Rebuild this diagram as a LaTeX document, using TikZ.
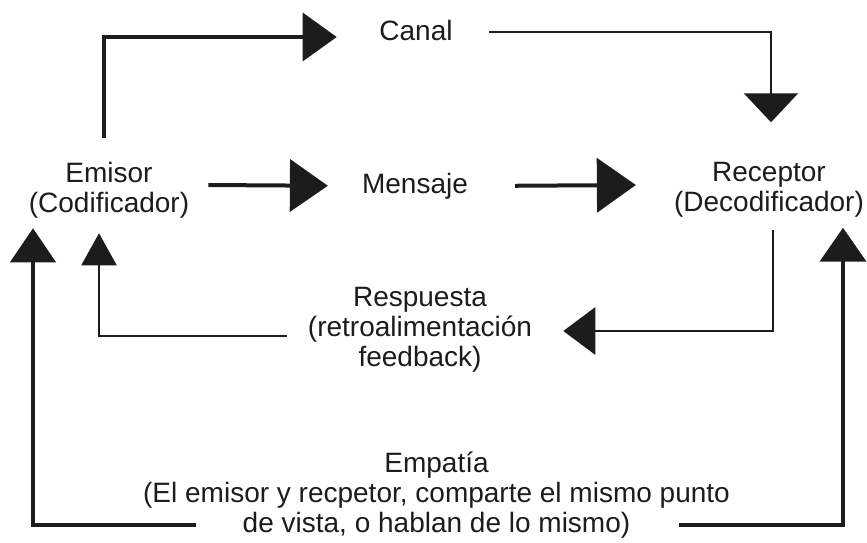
\documentclass[tikz,border=0pt]{standalone}
\usepackage{fontspec}
\setmainfont{Liberation Sans}
\usetikzlibrary{arrows.meta}
\definecolor{tinta}{HTML}{1C1C1C}

\begin{document}
\begin{tikzpicture}[x=1pt, y=-1pt, every node/.style={inner sep=0pt, align=center, text=tinta, font=\fontsize{28}{30}\selectfont},
	flecha/.style n args={3}{draw=tinta, line width=#1pt, -{Triangle[length=#2pt, width=#3pt]}}]

	\useasboundingbox (0,0) rectangle (867,542);

	\node (canal) [anchor=base] at(416,40) {Canal};
	\node (emisor) at(109,190) {Emisor\\(Codificador)};
	\node (mensaje) [anchor=base] at(415,193) {Mensaje};
	\node (receptor) at(769,190) {Receptor\\(Decodificador)};
	\node (respuesta) at(420,329.5) {Respuesta\\(retroalimentación\\feedback)};
	\node (empatia) at(436.5,495) {Empatía\\(El emisor y recpetor, comparte el mismo punto\\de vista, o hablan de lo mismo)};

\draw[flecha={3.5}{34}{48}] ([shift={(-5,-24)}]emisor.north) |- ([shift={(-42.5,7)}]canal.west);
\draw[flecha={2.2}{29}{54}] ([shift={(36.5,2)}]canal.east) -| ([shift={(2,-40)}]receptor.north);
\draw[flecha={4}{38}{52}] ([shift={(19,-5)}]emisor.east) -- ([shift={(-34,0)}]mensaje.west);
\draw[flecha={4}{39}{54}] ([shift={(47,0)}]mensaje.east) -- ([shift={(-38,-5)}]receptor.west);
\draw[flecha={2.8}{32}{47}] ([shift={(4,12)}]receptor.south) |- ([shift={(31,1.5)}]respuesta.east);
\draw[flecha={2}{32}{35}] ([shift={(-21,6.5)}]respuesta.west) -| ([shift={(-10,15)}]emisor.south);
\draw[flecha={4.3}{34}{45}] ([shift={(53,30)}]empatia.west) -| ([shift={(-76,10)}]emisor.south);
\draw[flecha={4.3}{34}{46}] ([shift={(-51,30)}]empatia.east) -| ([shift={(74,10)}]receptor.south);
\end{tikzpicture}
\end{document}
